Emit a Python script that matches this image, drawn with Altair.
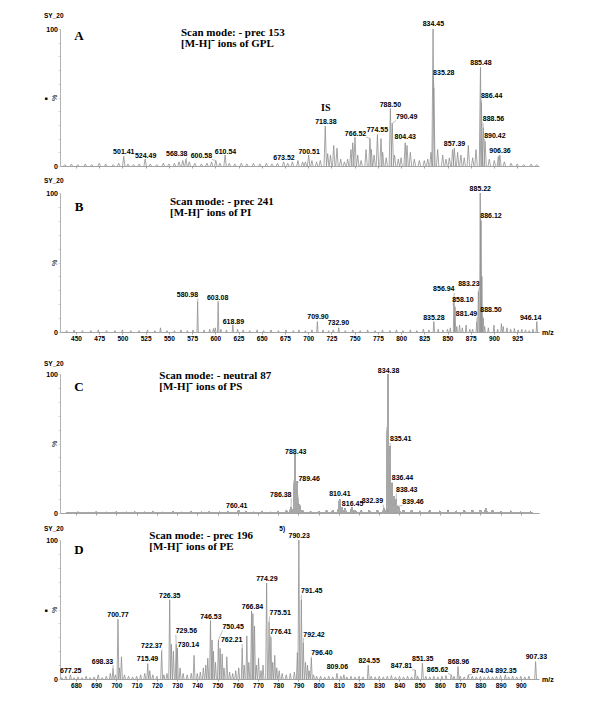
import altair as alt
import pandas as pd

SANS = "Liberation Sans, Arial, Helvetica, sans-serif"
SERIF = "Liberation Serif, Times New Roman, serif"

# ---------------- Panel A : prec 153, GPL ----------------
A_peak_mz = [438, 445, 452, 460, 467, 475, 482, 490, 496, 501.41,
             506, 512, 518, 524.49, 530, 537, 544, 550, 556, 561,
             565, 568.38, 572, 578, 585, 591, 596, 600.58, 605, 610.54,
             615, 621, 628, 634, 641, 648, 655, 661, 667, 673.52,
             678, 683, 689, 694, 697, 700.51, 704, 709, 713, 718.38,
             721, 724, 727.5, 731, 735, 739, 742.5, 746, 748, 750.4,
             753.3, 757, 762.3, 766.52, 768, 771, 774.55, 778.4, 780.2, 784,
             788.50, 790.49, 793, 797, 800, 804.43, 806.4, 810, 814.3, 819.7,
             825, 828.7, 832.2, 834.45, 835.28, 839.4, 844.8, 848.4, 852, 855.5,
             857.39, 860.9, 864.4, 868, 872.4, 877.1, 880.7, 885.48, 886.44, 888.56,
             890.42, 895, 900.4, 904.7, 906.36, 911.2, 918.4, 925, 932, 940,
             946]
A_peak_int = [1, 1.5, 1, 1.5, 1, 2, 1.5, 1, 2, 7,
              1.5, 1, 1.5, 5, 1.5, 1, 2, 1.5, 2, 3,
              4, 5, 3, 2, 1.5, 2, 3, 4, 2, 8,
              2, 1.5, 2, 1.5, 2, 1.5, 2, 1.5, 2, 3,
              2, 3, 4, 3, 3, 8, 4, 3, 4, 29,
              9, 8, 15, 13, 5, 3, 5, 12, 17, 21,
              8, 4, 12, 20, 12, 8, 23, 20, 10, 6,
              42, 31, 8, 5, 6, 17, 15, 10, 5, 4,
              4, 5, 10, 100, 57, 12, 8, 5, 6, 12,
              13, 10, 8, 6, 15, 6, 12, 72, 46, 28,
              18, 5, 4, 7, 8, 3, 2, 1.5, 1, 1.5,
              1]
A_lab_text = ["501.41", "524.49", "568.38", "600.58", "610.54", "673.52", "700.51",
              "718.38", "766.52", "774.55", "788.50", "790.49", "804.43", "834.45",
              "835.28", "857.39", "885.48", "886.44", "888.56", "890.42", "906.36"]
A_lab_x = [501.5, 525, 558.5, 585, 611, 674, 701,
           719, 751, 774.5, 788.5, 806, 804.5, 834.8,
           846, 857.5, 886, 897.5, 899.5, 901, 906.5]
A_lab_y = [10, 7.3, 8.6, 7.3, 10.2, 5.9, 10.2,
           32, 23.7, 26.1, 44.4, 35.8, 21.2, 103.4,
           68, 16.4, 74.9, 51, 34, 22, 10.8]
A_leaders = ["568.38", "600.58", "766.52", "790.49", "835.28", "886.44", "888.56", "890.42"]

# ---------------- Panel B : prec 241, PI ----------------
B_peak_mz = [440, 448, 457, 466, 474, 483, 492, 500, 509, 518,
             527, 535, 541, 548, 556, 563, 570, 576, 580.98, 588,
             594, 598, 600, 603.08, 606, 612, 618.89, 624, 630, 637,
             645, 652, 660, 668, 676, 684, 690, 697, 704, 709.90,
             716, 722, 727, 732.90, 740, 748, 756, 764, 772, 780,
             788, 795, 802, 810, 817, 824, 830, 835.28, 840, 845,
             850, 853, 856.94, 858.10, 860, 863, 866, 870, 874, 877,
             881.49, 883.23, 885.22, 886.12, 887, 888.50, 890, 894, 900, 904,
             908, 910, 914, 918, 922, 926, 930, 934, 938, 942,
             946.14]
B_peak_int = [1, 1.5, 1, 1, 1.5, 1, 1, 1.5, 1, 1,
              1.5, 1, 3, 1, 1, 1.5, 1, 1.5, 21.8, 1.5,
              2, 2.5, 3, 22, 2, 1.5, 5, 2, 1.5, 1,
              1.5, 1, 1.5, 1, 1.5, 1, 1.5, 1, 1.5, 7.5,
              1.5, 1, 1.5, 3, 1, 1.5, 1, 1.5, 1, 1.5,
              1, 1.5, 1, 1.5, 1, 2, 1.5, 7.5, 2, 1.5,
              2, 3, 25, 18, 4, 5, 3, 5, 2, 2,
              7.5, 29, 100, 80, 40, 10, 4, 3, 5, 2,
              6, 4, 3, 2, 2.5, 1.5, 2, 1.5, 1, 2,
              7.5]
B_lab_text = ["580.98", "603.08", "618.89", "709.90", "732.90", "835.28", "856.94",
              "858.10", "881.49", "883.23", "885.22", "886.12", "888.50", "946.14"]
B_lab_x = [570, 602.5, 619.5, 710.5, 732.5, 835.3, 846,
           866.5, 870.5, 873, 885.3, 896.8, 896.8, 939.5]
B_lab_y = [26.6, 24.7, 7.4, 11, 6.2, 9.8, 30.7,
           23, 13, 34.3, 102.7, 83.7, 15.8, 9.8]
B_leaders = ["580.98", "856.94", "858.10", "881.49", "883.23", "886.12", "888.50"]

# ---------------- Panel C : neutral 87, PS ----------------
C_peak_mz = [676, 681, 686, 690, 695, 700, 705, 709, 714, 718,
             723, 728, 732, 737, 742, 746, 751, 755, 760.41, 764,
             768, 772, 776, 780, 784, 786.38, 788.43, 789.46, 790.5, 792,
             796, 800, 804, 807, 810.41, 811.5, 813, 816.45, 818, 821,
             825, 829, 832.39, 834.38, 835.41, 836.44, 837.4, 838.43, 839.46, 842,
             846, 850, 855, 860, 864, 868, 872, 876, 880, 882.7,
             886, 890, 895, 900, 905]
C_peak_int = [0.5, 1, 0.5, 1, 0.5, 1, 0.5, 1, 0.5, 1,
              0.5, 1, 0.5, 1, 0.5, 1, 0.5, 1, 2, 1,
              0.5, 1, 0.5, 1, 1.5, 4, 42, 23, 6, 2,
              1, 1, 1.5, 2, 10, 4, 3, 4, 2, 1.5,
              1.5, 1.5, 3, 100, 48, 21, 12, 10, 5, 2,
              1.5, 1, 1.5, 1, 1.5, 1, 1.5, 1.5, 2, 3,
              1.5, 1, 1, 0.5, 0.5]
C_lab_text = ["760.41", "786.38", "788.43", "789.46", "810.41", "816.45",
              "832.39", "834.38", "835.41", "836.44", "838.43", "839.46"]
C_lab_x = [759.5, 781.3, 788.7, 795.3, 810.5, 816.8,
           826.6, 834.6, 840.6, 841.5, 843.6, 846.7]
C_lab_y = [5, 12.9, 43.8, 24.2, 13.4, 6.7,
           8.6, 101.9, 52.9, 24.9, 16.5, 7.9]
C_leaders = ["786.38", "789.46", "832.39", "835.41", "836.44", "838.43", "839.46"]

# ---------------- Panel D : prec 196, PE ----------------
D_peak_mz = [673, 675, 677.25, 679, 681, 683, 685, 687, 689, 691,
             693, 695, 697, 698.33, 699.5, 700.77, 701.5, 702.5, 704, 706,
             708, 710, 712, 714, 715.49, 716.5, 718, 720, 722.37, 723.5,
             725, 726.35, 727.2, 728.2, 729.56, 730.14, 731.5, 733, 735, 737,
             738.4, 740, 741.5, 743, 744.2, 745.2, 746.53, 747.3, 748, 749,
             750.45, 751.3, 752.3, 753.2, 754.6, 756, 757.5, 759, 760.5, 762.21,
             763.2, 764.5, 765.5, 766.84, 767.5, 768.3, 769.2, 770.3, 771.5, 772.5,
             774.29, 775.51, 776.41, 777.3, 778.3, 779.3, 780.5, 782, 784, 786,
             788, 789.5, 790.23, 791.45, 792.42, 793.5, 794.5, 795.3, 796.40, 797.5,
             799, 801, 803, 805, 807, 809.06, 811, 812.5, 814, 816,
             818, 820, 822, 824.55, 826, 828, 830, 832, 834, 836,
             838, 840, 842, 844, 846, 847.81, 849, 851.35, 853, 855,
             857, 859, 861, 863, 865.62, 867, 868.96, 870, 872, 874.04,
             876, 878, 880, 882, 884, 886, 888, 890, 892.35, 894,
             896, 898, 900, 902, 904, 907.33]
D_peak_int = [1, 2, 3, 1, 1.5, 1, 2, 1, 1.5, 3,
              1, 2, 4, 7.7, 3, 43, 8, 16, 3, 2,
              1.5, 2, 3, 4, 11, 6, 3, 2, 20, 3,
              4, 57, 25, 20, 25, 22, 8, 4, 3, 4,
              17, 4, 5, 8, 10, 15, 42, 28, 20, 12,
              28, 22, 18, 8, 16, 5, 4, 6, 8, 22,
              10, 31, 12, 49, 47, 38, 10, 15, 6, 10,
              69, 41, 30, 12, 17, 8, 6, 4, 3, 4,
              5, 19, 100, 57, 26, 12, 10, 6, 15, 3,
              2, 2, 1.5, 2, 1.5, 4, 2, 3, 1.5, 2,
              1.5, 2, 1.5, 10, 2, 1.5, 2, 1.5, 2, 2.5,
              1.5, 2, 1.5, 2, 1.5, 6.5, 2, 11.4, 2, 1.5,
              2, 1.5, 2, 2.5, 3, 2, 9, 2, 1.5, 3,
              2, 1.5, 2, 1.5, 2, 1.5, 2, 2.5, 3, 1.5,
              2, 1.5, 2, 1.5, 2, 12.5]
D_lab_text = ["677.25", "698.33", "700.77", "715.49", "722.37", "726.35", "729.56",
              "730.14", "746.53", "750.45", "762.21", "766.84", "774.29", "775.51",
              "776.41", "790.23", "791.45", "792.42", "796.40", "809.06", "824.55",
              "847.81", "851.35", "865.62", "868.96", "874.04", "892.35", "907.33"]
D_lab_x = [677.4, 693.1, 700.8, 715.4, 717.5, 726.4, 734.6,
           735.6, 746.7, 757.7, 757, 767.3, 774.4, 781,
           781.3, 790.4, 796.6, 797.7, 801.6, 809.3, 825,
           841, 851.5, 858.8, 869.2, 881, 892.6, 907.7]
D_lab_y = [6, 12.5, 46, 14.3, 24, 60, 34.3,
           24.6, 44.7, 37.4, 27.8, 52, 71.7, 47.5,
           33.8, 103, 63, 31.9, 18.6, 8.5, 13,
           9, 14.3, 6.5, 12, 5.8, 6, 15.7]
D_leaders = ["698.33", "722.37", "729.56", "730.14", "750.45", "762.21", "775.51",
             "776.41", "791.45", "792.42", "796.40", "847.81", "865.62", "874.04"]

# axis settings
AB_domain = [432.8, 948.5]
AB_ticks = list(range(450, 926, 25))
CD_domain = [672.1, 909]
CD_ticks = list(range(680, 901, 10))

# panel headings
titles = {
    "A": ("Scan mode: - prec 153", "[M-H]\u207b ions of  GPL"),
    "B": ("Scan mode: - prec 241", "[M-H]\u207b ions of  PI"),
    "C": ("Scan mode: - neutral 87", "[M-H]\u207b ions of  PS"),
    "D": ("Scan mode: - prec 196", "[M-H]\u207b ions of  PE"),
}

W = 479


def spectrum_df(mz, inten, w):
    rows = []
    for i, (m, v) in enumerate(zip(mz, inten)):
        rows.append({"pid": i, "mz": m - w, "v": 0})
        rows.append({"pid": i, "mz": m, "v": v})
        rows.append({"pid": i, "mz": m + w, "v": 0})
    return pd.DataFrame(rows)


def leaders_df(texts, lx, ly, leaders, pmz, pint, hw, dy):
    rows = []
    for t, x, y in zip(texts, lx, ly):
        if t in leaders:
            m = float(t)
            i = min(range(len(pmz)), key=lambda k: abs(pmz[k] - m))
            ex = x - hw if x > m else x + hw
            rows.append({"mz": m, "v": pint[i], "mz2": ex, "v2": y - dy})
    return pd.DataFrame(rows)


def txt(t, x, y, size, font, align="left", weight="bold", color="#000"):
    return alt.Chart(pd.DataFrame({"t": [t]})).mark_text(
        align=align, baseline="middle", fontSize=size, font=font,
        fontWeight=weight, color=color
    ).encode(x=alt.value(x), y=alt.value(y), text="t:N")


def panel(key, pmz, pint, w, texts, lx, ly, leaders, xdom, xticks, xlabels,
          height, letter_y, title_x, title_y, sy_y, square, filled, hw, extras,
          top_off=0):
    total_h = height + top_off
    xs = alt.Scale(domain=xdom, nice=False, zero=False)
    ys = alt.Scale(domain=[0, 100], nice=False, zero=True, range=[total_h, top_off])
    xaxis = alt.Axis(values=xticks, labels=xlabels, title=None, tickSize=2,
                     grid=False, domainColor="#8c8c8c", tickColor="#8c8c8c",
                     domainWidth=0.8, tickWidth=0.8, labelFontSize=6.5,
                     labelFont=SANS, labelFontWeight="bold", labelPadding=1,
                     labelColor="#000", labelFlush=False)
    yaxis = alt.Axis(values=list(range(0, 101, 10)),
                     labelExpr="datum.value == 0 || datum.value == 100 ? datum.label : ''",
                     title="%", titleX=-6, titleY=top_off + height / 2, titleAngle=270,
                     titleAlign="center", titleBaseline="middle", titleFontSize=7,
                     titleFont=SANS, titleFontWeight="normal", titleColor="#000",
                     tickSize=2, grid=False, domainColor="#a0a0a0",
                     tickColor="#c0c0c0", domainWidth=0.8, tickWidth=0.6,
                     labelFontSize=7, labelFont=SANS, labelFontWeight="bold",
                     labelPadding=0.5, labelColor="#000")
    X = alt.X("mz:Q", scale=xs, axis=xaxis)
    Y = alt.Y("v:Q", scale=ys, axis=yaxis)

    spec = spectrum_df(pmz, pint, w)
    if filled:
        spec_layer = alt.Chart(spec).mark_area(
            color="#c4c4c4", opacity=1, clip=True,
            line={"color": "#a8a8a8", "strokeWidth": 0.6}
        ).encode(x=X, y=Y, detail="pid:N")
    else:
        spec_layer = alt.Chart(spec).mark_line(
            color="#8f8f8f", strokeWidth=0.8, clip=True
        ).encode(x=X, y=Y, detail="pid:N")

    lead = leaders_df(texts, lx, ly, leaders, pmz, pint, hw, 2.5)
    lead_layer = alt.Chart(lead).mark_rule(color="#8f8f8f", strokeWidth=0.6).encode(
        x=X, y=Y, x2="mz2:Q", y2="v2:Q")

    lab = pd.DataFrame({"t": texts, "mz": lx, "v": ly})
    lab_layer = alt.Chart(lab).mark_text(
        fontSize=7, font=SANS, fontWeight="bold", color="#000", baseline="middle"
    ).encode(x=X, y=Y, text="t:N")

    layers = [spec_layer, lead_layer, lab_layer]
    for (t, ex, ey, size, font) in extras:
        d = pd.DataFrame({"t": [t], "mz": [ex], "v": [ey]})
        layers.append(alt.Chart(d).mark_text(
            fontSize=size, font=font, fontWeight="bold", color="#000", baseline="middle"
        ).encode(x=X, y=Y, text="t:N"))

    t1, t2 = titles[key]
    layers += [
        txt(key, 19, top_off + letter_y, 13, SERIF, align="center"),
        txt(t1, title_x, top_off + title_y, 11, SERIF),
        txt(t2, title_x, top_off + title_y + 11, 11, SERIF),
        txt("SY_20", -16, top_off + sy_y, 6.5, SANS),
    ]
    if square:
        layers.append(txt("\u25a0", -14, top_off + height / 2, 5, SANS, align="center"))
    if xlabels:
        layers.append(txt("m/z", 482, total_h + 0.5, 7, SANS))
    return alt.layer(*layers).properties(width=W, height=total_h)


pA = panel("A", A_peak_mz, A_peak_int, 1.3, A_lab_text, A_lab_x, A_lab_y, A_leaders,
           AB_domain, AB_ticks, False, 137, 6.8, 121, 4.3, -13.3, True, False, 11.3,
           [("IS", 719, 42.7, 10, SERIF)])
pB = panel("B", B_peak_mz, B_peak_int, 0.7, B_lab_text, B_lab_x, B_lab_y, B_leaders,
           AB_domain, AB_ticks, True, 139, 14, 110, 9, -11.6, False, False, 11.3, [])
pC = panel("C", C_peak_mz, C_peak_int, 0.8, C_lab_text, C_lab_x, C_lab_y, C_leaders,
           CD_domain, CD_ticks, False, 139, 13, 99.3, 2.4, -10.3, False, True, 5.2, [],
           top_off=15)
pD = panel("D", D_peak_mz, D_peak_int, 0.45, D_lab_text, D_lab_x, D_lab_y, D_leaders,
           CD_domain, CD_ticks, True, 139, 9.6, 89.3, -4, -11.4, True, False, 5.2,
           [("5)", 782, 107.7, 6.5, SANS)])

chart = alt.vconcat(pA, pB, pC, pD, spacing=27, bounds="flush").properties(
    padding={"left": 35, "top": 4, "right": 5, "bottom": 5}
).configure_view(stroke="transparent")

chart.save("out.html", embed_options={"renderer": "svg", "actions": False})
